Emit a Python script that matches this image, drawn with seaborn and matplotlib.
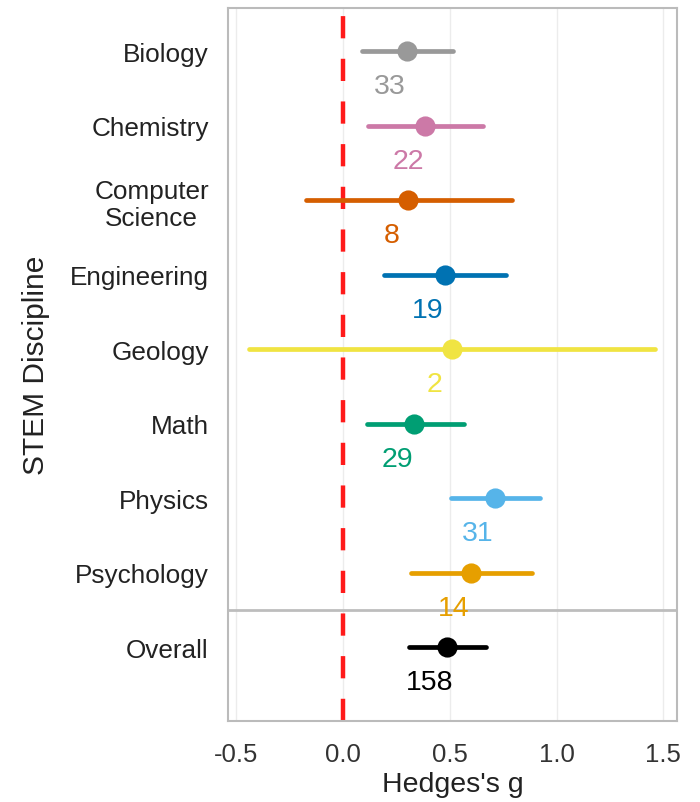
import matplotlib
matplotlib.use("Agg")
import matplotlib.pyplot as plt
import seaborn as sns
import pandas as pd

# Effect sizes by discipline: point estimate and 95% CI bounds
disciplines = ["Biology", "Chemistry", "Computer\nScience", "Engineering", "Geology",
               "Math", "Physics", "Psychology", "Overall"]
hedges_g = [0.30, 0.385, 0.307, 0.478, 0.509, 0.335, 0.712, 0.60, 0.486]
ci_low = [0.089, 0.12, -0.171, 0.194, -0.441, 0.112, 0.506, 0.319, 0.311]
ci_high = [0.517, 0.654, 0.79, 0.763, 1.459, 0.567, 0.922, 0.886, 0.668]
n_studies = [33, 22, 8, 19, 2, 29, 31, 14, 158]
colors = ["#999999", "#CC79A7", "#D55E00", "#0072B2", "#F0E442",
          "#009E73", "#56B4E9", "#E69F00", "#000000"]
x_ticks = [-0.5, 0.0, 0.5, 1.0, 1.5]

# Long table: each discipline holds its lower bound, estimate and upper bound;
# the median gives the estimate and the min/max give the interval.
rows = []
for d, lo, g, hi in zip(disciplines, ci_low, hedges_g, ci_high):
    for v in (lo, g, hi):
        rows.append({"discipline": d, "g": v})
df = pd.DataFrame(rows)

sns.set_theme(style="white")
plt.rcParams["font.family"] = ["Liberation Sans", "DejaVu Sans"]

fig = plt.figure(figsize=(7.0, 8.03), dpi=100)
ax = fig.add_axes([0.326, 0.101, 0.641, 0.888])

for x in x_ticks:
    ax.axvline(x, color="#ECECEC", lw=1.0, zorder=0)

sns.pointplot(
    data=df, x="g", y="discipline", hue="discipline", order=disciplines,
    hue_order=disciplines, palette=colors, estimator="median",
    errorbar=lambda v: (v.min(), v.max()), linestyle="none",
    markersize=12.5, err_kws={"linewidth": 3.4}, legend=False, ax=ax,
)

ax.axvline(0.0, color="#FF1A1A", lw=3.2, ls=(0, (5.0, 4.6)), zorder=1)
ax.axhline(7.5, color="#BDBDBD", lw=2.0, zorder=1)

for i, (g, n, c) in enumerate(zip(hedges_g, n_studies, colors)):
    ax.text(g - 0.08, i + 0.47, str(n), color=c, fontsize=20.5,
            ha="center", va="center", zorder=3)

ax.set_xlim(-0.536, 1.563)
ax.set_ylim(8.99, -0.58)
ax.set_xticks(x_ticks)
ax.set_xticklabels(["-0.5", "0.0", "0.5", "1.0", "1.5"])
ax.tick_params(axis="x", labelsize=18.5, length=0, pad=15, colors="#333333")
ax.tick_params(axis="y", labelsize=18.8, length=0, pad=14, colors="#222222")
for lab in ax.get_yticklabels():
    lab.set_multialignment("center")

ax.set_xlabel("Hedges's g", fontsize=20.5, color="#222222", labelpad=4)
ax.set_ylabel("STEM Discipline", fontsize=21.5, color="#222222", labelpad=14)

for s in ax.spines.values():
    s.set_color("#BBBBBB")
    s.set_linewidth(1.5)

fig.savefig("out.png", dpi=100)
